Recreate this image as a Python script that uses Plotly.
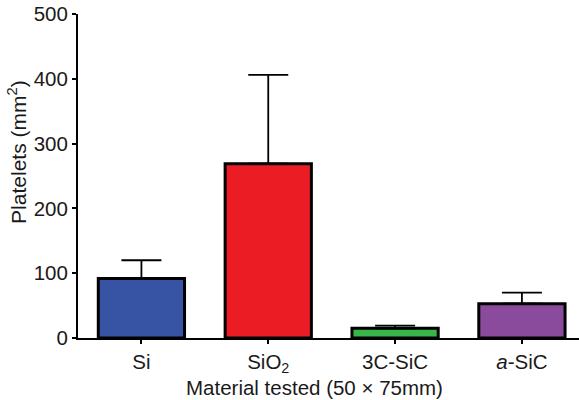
import plotly.graph_objects as go

categories = ["Si", "SiO<sub>2</sub>", "3C-SiC", "<i>a</i>-SiC"]
values = [92, 269, 15, 53]
err_upper = [28, 137, 4, 17]
colors = ["#3753A4", "#EC1C24", "#3AB54A", "#8A4B9D"]
x_title = "Material tested (50 × 75mm)"
y_title = "Platelets (mm<sup>2</sup>)"

fig = go.Figure()
fig.add_trace(go.Bar(
    x=list(range(len(categories))),
    y=values,
    width=0.68,
    marker=dict(color=colors, line=dict(color="black", width=3)),
    error_y=dict(type="data", symmetric=False, array=err_upper,
                 arrayminus=[0] * len(values),
                 color="black", thickness=1.8, width=20),
))

font = "Liberation Sans, Arial, Helvetica, sans-serif"
fig.update_layout(
    width=579, height=400,
    margin=dict(l=78, r=0, t=14, b=62),
    plot_bgcolor="white", paper_bgcolor="white",
    showlegend=False,
    font=dict(family=font, size=20, color="#1a1a1a"),
    xaxis=dict(
        range=[-0.5, 3.45],
        tickmode="array", tickvals=list(range(len(categories))), ticktext=categories,
        showline=True, linecolor="black", linewidth=2,
        ticks="outside", ticklen=4, tickwidth=2, tickcolor="black",
        tickfont=dict(size=20.5),
        showgrid=False, zeroline=False,
    ),
    yaxis=dict(
        range=[0, 500], tickvals=[0, 100, 200, 300, 400, 500],
        showline=True, linecolor="black", linewidth=2,
        ticks="outside", ticklen=4, tickwidth=2, tickcolor="black",
        tickfont=dict(size=20.5),
        showgrid=False, zeroline=False,
    ),
    annotations=[
        dict(text=x_title, xref="paper", yref="paper", x=0.473, y=-0.153,
             xanchor="center", yanchor="middle", showarrow=False,
             font=dict(size=20.5)),
        dict(text=y_title, xref="paper", yref="paper", x=-0.122, y=0.574,
             xanchor="center", yanchor="middle", showarrow=False,
             textangle=-90, font=dict(size=21)),
    ],
)
fig.write_html("out.html")
